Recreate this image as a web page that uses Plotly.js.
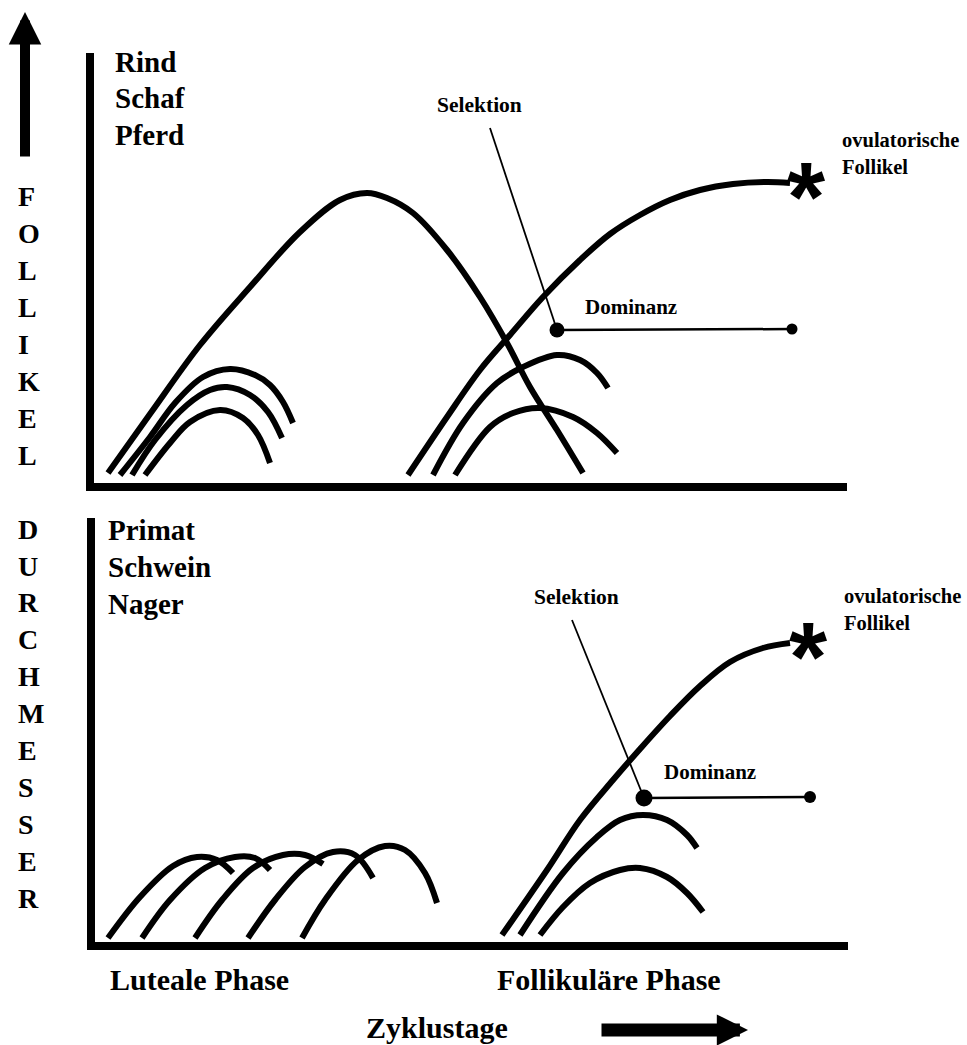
<!DOCTYPE html>
<html>
<head>
<meta charset="utf-8">
<script src="https://cdn.plot.ly/plotly-3.0.1.min.js"></script>
<style>html,body{margin:0;padding:0;background:#fff;}#chart{width:967px;height:1045px;}</style>
</head>
<body>
<div id="chart"></div>
<script>
// ---------- Data (x = Zyklustage units, y = Follikeldurchmesser units) ----------
// Top panel: Rind / Schaf / Pferd
const topBigX   = [18, 60, 110, 160, 210, 250, 277, 297, 323, 357, 390, 417, 440, 467, 493];
const topBigY   = [14, 73, 142, 200, 255, 287, 294, 289, 274, 237, 190, 144, 100, 57, 14];
const topA1X    = [30, 60, 85, 113, 140, 165, 180, 193, 203];
const topA1Y    = [12, 50, 84, 110, 118, 112, 102, 85, 64];
const topA2X    = [42, 65, 97, 120, 137, 160, 178, 192];
const topA2Y    = [12, 47, 82, 97, 100, 92, 75, 49];
const topA3X    = [55, 80, 100, 130, 153, 168, 180];
const topA3Y    = [12, 44, 65, 77, 69, 52, 24];
const topOvX    = [318, 357, 390, 420, 453, 490, 520, 550, 580, 610, 643, 677, 700];
const topOvY    = [12, 70, 117, 152, 190, 227, 253, 272, 287, 297, 303, 305, 304];
const topB1X    = [343, 373, 407, 433, 467, 490, 507, 518];
const topB1Y    = [12, 64, 104, 120, 132, 127, 114, 99];
const topB2X    = [365, 400, 423, 450, 483, 507, 527];
const topB2Y    = [12, 60, 74, 79, 70, 54, 34];
const topStarX  = [716];
const topStarY  = [303];
const topSelX   = [400, 467];
const topSelY   = [359, 157];
const topDomX   = [467, 702];
const topDomY   = [157, 158];

// Bottom panel: Primat / Schwein / Nager
const botL1X = [18, 50, 83, 107, 127, 143];
const botL1Y = [8, 49, 80, 89, 86, 73];
const botL2X = [52, 80, 115, 145, 165, 180];
const botL2Y = [8, 46, 78, 89, 88, 76];
const botL3X = [105, 132, 163, 193, 215, 233];
const botL3Y = [8, 46, 78, 91, 91, 82];
const botL4X = [158, 185, 215, 243, 265, 283];
const botL4Y = [8, 46, 79, 94, 91, 68];
const botL5X = [212, 235, 268, 295, 315, 335, 347];
const botL5Y = [8, 46, 86, 100, 96, 73, 43];
const botOvX = [412, 457, 490, 523, 550, 580, 610, 640, 673, 700];
const botOvY = [11, 76, 126, 166, 197, 230, 260, 284, 298, 303];
const botB1X = [430, 473, 507, 530, 553, 577, 597, 607];
const botB1Y = [11, 73, 109, 126, 131, 126, 111, 98];
const botB2X = [450, 473, 500, 530, 550, 577, 597, 613];
const botB2Y = [11, 39, 63, 76, 78, 69, 53, 34];
const botStarX = [718];
const botStarY = [302];
const botSelX = [482, 554];
const botSelY = [326, 148];
const botDomX = [554, 720];
const botDomY = [148, 149];

// Texts
const speciesTop = ["Rind", "Schaf", "Pferd"];
const speciesBot = ["Primat", "Schwein", "Nager"];
const yLetters = "FOLLIKEL DURCHMESSER";
const phaseLabels = ["Luteale Phase", "Follikuläre Phase"];
const xTitle = "Zyklustage";

// ---------- Layout helpers ----------
const W = 967, H = 1045;
const px = v => v / W;
const py = v => 1 - v / H;
const SERIF = "Liberation Serif, Times New Roman, serif";

function curve(x, y, xa, ya) {
  return {x, y, xaxis: xa, yaxis: ya, type: "scatter", mode: "lines",
    line: {color: "#000", width: 6, shape: "spline", smoothing: 1},
    hoverinfo: "skip", cliponaxis: false};
}
function thin(x, y, xa, ya, w) {
  return {x, y, xaxis: xa, yaxis: ya, type: "scatter", mode: "lines",
    line: {color: "#000", width: w}, hoverinfo: "skip", cliponaxis: false};
}
function dom(x, y, xa, ya, sizes) {
  return {x, y, xaxis: xa, yaxis: ya, type: "scatter", mode: "lines+markers",
    line: {color: "#000", width: 2.5},
    marker: {color: "#000", size: sizes, opacity: 1, line: {width: 0, color: "#000"}},
    opacity: 1, hoverinfo: "skip", cliponaxis: false};
}

const traces = [
  curve(topBigX, topBigY, "x", "y"),
  curve(topA1X, topA1Y, "x", "y"),
  curve(topA2X, topA2Y, "x", "y"),
  curve(topA3X, topA3Y, "x", "y"),
  curve(topOvX, topOvY, "x", "y"),
  curve(topB1X, topB1Y, "x", "y"),
  curve(topB2X, topB2Y, "x", "y"),
  thin(topSelX, topSelY, "x", "y", 1.8),
  dom(topDomX, topDomY, "x", "y", [15, 11]),
  curve(botL1X, botL1Y, "x2", "y2"),
  curve(botL2X, botL2Y, "x2", "y2"),
  curve(botL3X, botL3Y, "x2", "y2"),
  curve(botL4X, botL4Y, "x2", "y2"),
  curve(botL5X, botL5Y, "x2", "y2"),
  curve(botOvX, botOvY, "x2", "y2"),
  curve(botB1X, botB1Y, "x2", "y2"),
  curve(botB2X, botB2Y, "x2", "y2"),
  thin(botSelX, botSelY, "x2", "y2", 1.8),
  dom(botDomX, botDomY, "x2", "y2", [17, 12])
];

const axBase = {showgrid: false, zeroline: false, showticklabels: false, ticks: "",
  showline: true, linecolor: "#000", linewidth: 8, fixedrange: true};

const ann = [];
function lbl(text, x, y, size, xanchor) {
  ann.push({text, x: px(x), y: py(y), xref: "paper", yref: "paper",
    xanchor: xanchor || "left", yanchor: "middle", align: "left", showarrow: false,
    font: {family: SERIF, size, color: "#000", weight: "bold"}});
}
// Species labels
const topSpY = [62, 98, 135];
speciesTop.forEach((s, i) => lbl("<b>" + s + "</b>", 113, topSpY[i], 29));
const botSpY = [530, 567, 604];
speciesBot.forEach((s, i) => lbl("<b>" + s + "</b>", 106, botSpY[i], 29));
// Vertical axis letters
[...yLetters].forEach((c, i) => { if (c !== " ") lbl("<b>" + c + "</b>", 16, 197 + i * 36.9, 28); });
// Small labels
lbl("<b>Selektion</b>", 479, 105.5, 21.5, "center");
lbl("<b>Dominanz</b>", 583, 307, 21);
lbl("<b>ovulatorische<br>Follikel</b>", 840, 153, 20.5);
lbl("<b>Selektion</b>", 576, 597, 21.5, "center");
lbl("<b>ovulatorische<br>Follikel</b>", 842, 609, 20.5);
lbl("<b>Dominanz</b>", 662, 772, 21);
// Phase labels / x title
lbl("<b>" + phaseLabels[0] + "</b>", 108, 979, 30);
lbl("<b>" + phaseLabels[1] + "</b>", 495, 979, 30);
lbl("<b>" + xTitle + "</b>", 364, 1027, 30);
// Ovulatory follicle asterisks (anchored at data points)
[[topStarX[0], topStarY[0], "x", "y"], [botStarX[0], botStarY[0], "x2", "y2"]].forEach(s => {
  ann.push({text: "<b>*</b>", x: s[0], y: s[1], xref: s[2], yref: s[3], showarrow: false,
    xanchor: "center", yanchor: "middle", yshift: -13,
    font: {family: "Liberation Sans, Arial, sans-serif", size: 98, color: "#000"}});
});
// Direction arrows
ann.push({text: "", x: px(25), y: py(12), xref: "paper", yref: "paper", showarrow: true,
  ax: 0, ay: 146, axref: "pixel", ayref: "pixel", arrowhead: 2, arrowsize: 0.65, arrowwidth: 10,
  arrowcolor: "#000", standoff: 0});
ann.push({text: "", x: px(748), y: py(1030), xref: "paper", yref: "paper", showarrow: true,
  ax: -148, ay: 0, axref: "pixel", ayref: "pixel", arrowhead: 2, arrowsize: 0.48, arrowwidth: 13,
  arrowcolor: "#000", standoff: 0});

const layout = {
  width: W, height: H, margin: {l: 0, r: 0, t: 0, b: 0},
  paper_bgcolor: "#fff", plot_bgcolor: "#fff", showlegend: false,
  xaxis: Object.assign({}, axBase, {domain: [px(94), px(847)], range: [4, 757], anchor: "y"}),
  yaxis: Object.assign({}, axBase, {domain: [py(483), py(53)], range: [4, 434], anchor: "x"}),
  xaxis2: Object.assign({}, axBase, {domain: [px(95), px(848)], range: [5, 758], anchor: "y2"}),
  yaxis2: Object.assign({}, axBase, {domain: [py(942), py(518)], range: [4, 428], anchor: "x2"}),
  annotations: ann
};

Plotly.newPlot("chart", traces, layout, {staticPlot: true, displayModeBar: false});
</script>
</body>
</html>
